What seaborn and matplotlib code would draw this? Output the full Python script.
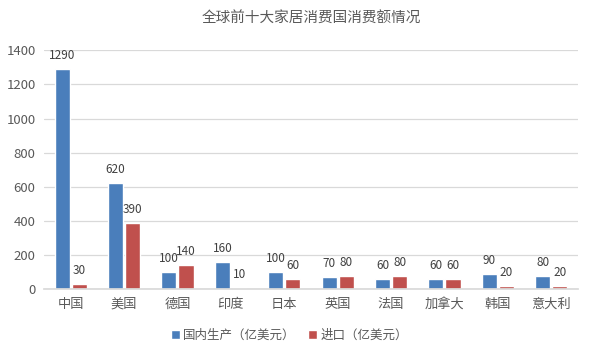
import matplotlib
matplotlib.use("Agg")
import matplotlib.pyplot as plt
import pandas as pd
import seaborn as sns

countries = ["中国", "美国", "德国", "印度", "日本", "英国", "法国", "加拿大", "韩国", "意大利"]
domestic = [1290, 620, 100, 160, 100, 70, 60, 60, 90, 80]
imports = [30, 390, 140, 10, 60, 80, 80, 60, 20, 20]
series_names = ["国内生产（亿美元）", "进口（亿美元）"]

df = pd.DataFrame({
    "country": countries * 2,
    "value": domestic + imports,
    "series": [series_names[0]] * len(countries) + [series_names[1]] * len(countries),
})

sns.set_theme(style="white")
plt.rcParams["font.family"] = ["Noto Sans CJK SC", "DejaVu Sans"]

fig, ax = plt.subplots(figsize=(5.94, 3.54), dpi=100)
fig.subplots_adjust(left=0.074, right=0.973, top=0.858, bottom=0.183)

sns.barplot(data=df, x="country", y="value", hue="series", ax=ax,
            palette=["#4a7ebb", "#c0504d"], width=0.64, gap=0.12,
            saturation=1, legend=True)

for cont in ax.containers:
    ax.bar_label(cont, padding=5, fontsize=8.5, color="#404040")

ax.set_ylim(0, 1400)
ax.set_yticks(range(0, 1401, 200))
ax.grid(axis="y", color="#d9d9d9", linewidth=0.9)
ax.set_axisbelow(True)
for s in ["top", "right", "left"]:
    ax.spines[s].set_visible(False)
ax.spines["bottom"].set_color("#d9d9d9")
ax.tick_params(axis="both", labelsize=9.5, colors="#595959", length=0, pad=6)
ax.set_xlabel("")
ax.set_ylabel("")
ax.set_title("全球前十大家居消费国消费额情况", fontsize=10.5, color="#595959", pad=20)

ax.legend(loc="upper center", bbox_to_anchor=(0.46, -0.12), ncol=2, frameon=False,
          fontsize=9, handlelength=0.7, handleheight=0.7, handletextpad=0.3,
          columnspacing=1.0, labelcolor="#595959")

fig.savefig("out.png", dpi=100)
